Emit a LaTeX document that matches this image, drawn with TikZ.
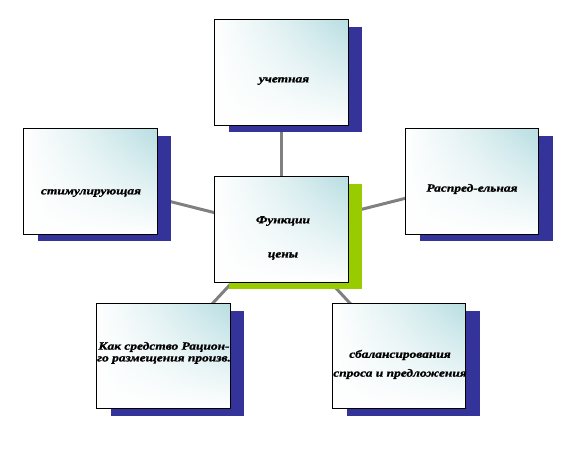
\documentclass[tikz,border=0pt]{standalone}
\usepackage{fontspec}
\usetikzlibrary{fadings}
\setmainfont{Liberation Serif}
\newfontfamily\lblfont{Liberation Serif}[FakeStretch=1.22,FakeBold=1.2]
\definecolor{shadowblue}{HTML}{333399}
\definecolor{shadowgreen}{HTML}{99CC00}
\definecolor{boxteal}{HTML}{B8DEE2}
\definecolor{linkgray}{HTML}{808080}
\tikzset{
  panel/.style={draw=none, shading=axis, left color=white, right color=boxteal, middle color=boxteal!45!white, minimum width=133pt, minimum height=105pt, inner sep=0pt},
  shadowbox/.style={fill=shadowblue, draw=none, minimum width=133pt, minimum height=105pt, inner sep=0pt},
  link/.style={draw=linkgray, line width=3pt},
  label/.style={font=\lblfont\fontsize{11}{13}\selectfont\bfseries\itshape, align=center, inner sep=0pt}
}
\begin{document}
\begin{tikzpicture}[x=1pt,y=-1pt]
\useasboundingbox (0,0) rectangle (563,461);
% links
\coordinate (cC) at (281.5,229.5);
\coordinate (cT) at (281.5,72.5);
\coordinate (cL) at (90.5,181.5);
\coordinate (cR) at (472,181.5);
\coordinate (cBL) at (163.5,356);
\coordinate (cBR) at (399,356);
\draw[link] (cC) -- (cT);
\draw[link] (cC) -- (cL);
\draw[link] (cC) -- (cR);
\draw[link] (cC) -- (cBL);
\draw[link] (cC) -- (cBR);
% shadows
\node[shadowbox] (sT) at (295,79.5) {};
\node[shadowbox] (sL) at (104.5,188.5) {};
\node[shadowbox] (sR) at (486,188.5) {};
\node[shadowbox, fill=shadowgreen] (sC) at (295,236.5) {};
\node[shadowbox] (sBL) at (177.5,363) {};
\node[shadowbox] (sBR) at (413,363) {};
% panels
\node[panel] (T) at (cT) {};
\node[panel] (L) at (cL) {};
\node[panel] (R) at (cR) {};
\node[panel] (C) at (cC) {};
\node[panel] (BL) at (cBL) {};
\node[panel] (BR) at (cBR) {};
\foreach \n in {T,L,R,C,BL,BR}{
  \fill[white, path fading=north] (\n.south west) rectangle (\n.north east);
  \draw[black, line width=0.8pt] (\n.south west) rectangle (\n.north east);
}
% texts
\node[label] (tT) at (284,81) {учетная};
\node[label] (tL) at (91,193) {стимулирующая};
\node[label] (tR) at (472,189) {Распред-ельная};
\node[label] (tC1) at (283,221) {Функции};
\node[label] (tC2) at (283,256) {цены};
\node[label] (tBL1) at (164,347) {Как средство Рацион-};
\node[label] (tBL2) at (164,360) {го размещения произв.};
\node[label] (tBR1) at (400,355) {сбалансирования};
\node[label] (tBR2) at (400,374) {спроса и предложения};
\end{tikzpicture}
\end{document}
